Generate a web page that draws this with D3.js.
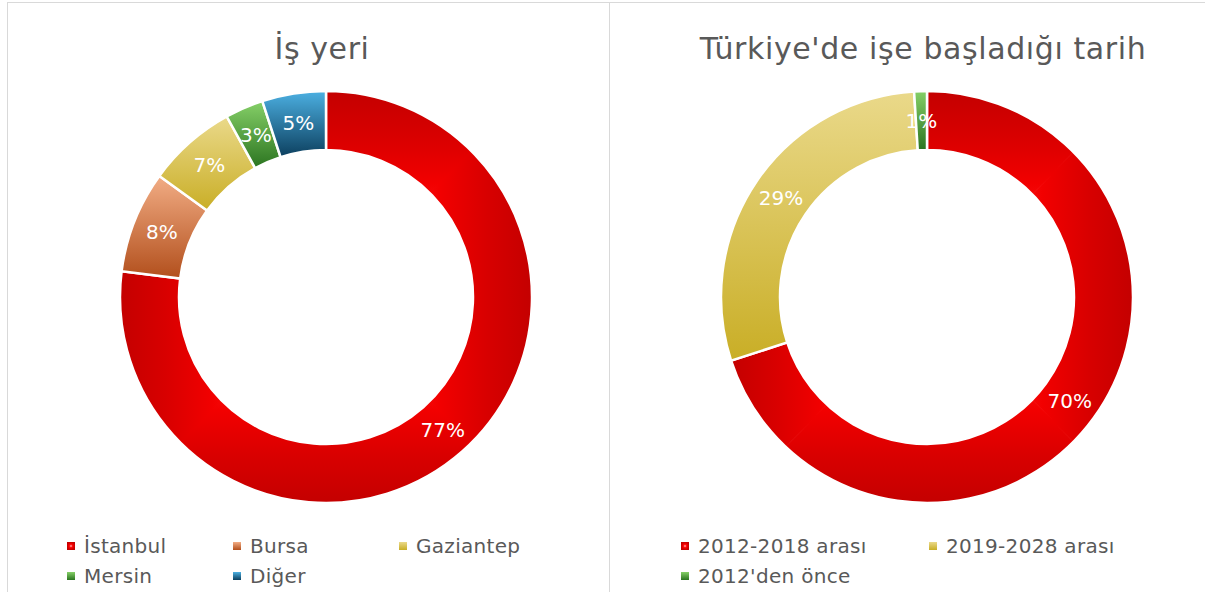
<!DOCTYPE html>
<html>
<head>
<meta charset="utf-8">
<script src="https://cdn.jsdelivr.net/npm/d3@7"></script>
<style>
  body { margin: 0; background: #fff; }
  svg { display: block; font-family: "DejaVu Sans", Inter, sans-serif; }
</style>
</head>
<body>
<svg id="chart" width="1205" height="592"></svg>
<script>
// left chart: workplace
var workTitle = "İş yeri";
var workCategories = ["İstanbul", "Bursa", "Gaziantep", "Mersin", "Diğer"];
var workValues = [77, 8, 7, 3, 5];

// right chart: start year in Türkiye
var startTitle = "Türkiye'de işe başladığı tarih";
var startCategories = ["2012-2018 arası", "2019-2028 arası", "2012'den önce"];
var startValues = [70, 29, 1];

// gradient colours [top, bottom], red uses path style gradient
var palette = {
  "İstanbul": "red",
  "2012-2018 arası": "red",
  "Bursa": ["#f2ad85", "#b24f1c"],
  "Gaziantep": ["#ead98a", "#c9ae26"],
  "2019-2028 arası": ["#ead98a", "#c9ae26"],
  "Mersin": ["#86d068", "#2b7420"],
  "2012'den önce": ["#86d068", "#2b7420"],
  "Diğer": ["#4cb0e2", "#0c3f5e"]
};
var redStops = [[0, "#ffe8e8"], [0.3, "#ff1a1a"], [0.55, "#f20000"], [0.78, "#d80000"], [1, "#c40000"]];

var textColor = "#595959";
var svg = d3.select("#chart");
var defs = svg.append("defs");
var gid = 0;

// frames
svg.append("rect").attr("x", 7.5).attr("y", 2.5).attr("width", 602).attr("height", 620)
  .attr("fill", "none").attr("stroke", "#d9d9d9");
svg.append("rect").attr("x", 609.5).attr("y", 2.5).attr("width", 620).attr("height", 620)
  .attr("fill", "none").attr("stroke", "#d9d9d9");

function linearGrad(c) {
  var id = "g" + (gid++);
  var g = defs.append("linearGradient").attr("id", id)
    .attr("x1", 0).attr("y1", 0).attr("x2", 0).attr("y2", 1);
  g.append("stop").attr("offset", 0).attr("stop-color", c[0]);
  g.append("stop").attr("offset", 1).attr("stop-color", c[1]);
  return "url(#" + id + ")";
}

function redLine(x1, y1, x2, y2) {
  var id = "g" + (gid++);
  var g = defs.append("linearGradient").attr("id", id)
    .attr("gradientUnits", "userSpaceOnUse")
    .attr("x1", x1).attr("y1", y1).attr("x2", x2).attr("y2", y2);
  redStops.forEach(function(s) {
    g.append("stop").attr("offset", s[0]).attr("stop-color", s[1]);
  });
  return "url(#" + id + ")";
}

function redRadial() {
  var id = "g" + (gid++);
  var g = defs.append("radialGradient").attr("id", id);
  redStops.forEach(function(s) {
    g.append("stop").attr("offset", s[0]).attr("stop-color", s[1]);
  });
  return "url(#" + id + ")";
}

// rectangular "path" gradient: four triangles clipped to the slice
function fillRed(g, pathD) {
  var tmp = g.append("path").attr("d", pathD).attr("fill", "none");
  var b = tmp.node().getBBox();
  tmp.remove();
  var cid = "c" + (gid++);
  defs.append("clipPath").attr("id", cid).append("path").attr("d", pathD);
  var cx = b.x + b.width / 2, cy = b.y + b.height / 2;
  var x0 = b.x, x1 = b.x + b.width, y0 = b.y, y1 = b.y + b.height;
  var inner = g.append("g").attr("clip-path", "url(#" + cid + ")");
  var tris = [
    [[cx, cy], [x0, y0], [x1, y0], redLine(cx, cy, cx, y0)],
    [[cx, cy], [x1, y0], [x1, y1], redLine(cx, cy, x1, cy)],
    [[cx, cy], [x1, y1], [x0, y1], redLine(cx, cy, cx, y1)],
    [[cx, cy], [x0, y1], [x0, y0], redLine(cx, cy, x0, cy)]
  ];
  tris.forEach(function(t) {
    inner.append("path")
      .attr("d", "M" + t[0] + "L" + t[1] + "L" + t[2] + "Z")
      .attr("fill", t[3]).attr("stroke", t[3]).attr("stroke-width", 1);
  });
  g.append("path").attr("d", pathD).attr("fill", "none")
    .attr("stroke", "#fff").attr("stroke-width", 2.5);
}

function drawDonut(opt) {
  var g = svg.append("g").attr("transform", "translate(" + opt.cx + "," + opt.cy + ")");
  var pie = d3.pie().sort(null).value(function(d) { return d; });
  var arc = d3.arc().innerRadius(147).outerRadius(206);
  var arcs = pie(opt.values);
  var total = d3.sum(opt.values);

  arcs.forEach(function(a, i) {
    var name = opt.categories[i];
    var col = palette[name];
    var d = arc(a);
    if (col === "red") {
      fillRed(g, d);
    } else {
      g.append("path").attr("d", d).attr("fill", linearGrad(col))
        .attr("stroke", "#fff").attr("stroke-width", 2.5);
    }
  });

  g.selectAll("text.lbl").data(arcs).enter().append("text")
    .attr("class", "lbl")
    .attr("transform", function(a) { return "translate(" + arc.centroid(a) + ")"; })
    .attr("text-anchor", "middle").attr("dy", "0.36em")
    .attr("fill", "#fff").attr("font-size", 20)
    .text(function(a) { return Math.round(a.data / total * 100) + "%"; });

  svg.append("text").attr("x", opt.titleX).attr("y", 59)
    .attr("text-anchor", "middle").attr("fill", textColor).attr("font-size", 30)
    .attr("letter-spacing", 0.6)
    .text(opt.title);

  // legend
  var lg = svg.append("g");
  opt.categories.forEach(function(name, i) {
    var col = i % opt.legendCols, row = Math.floor(i / opt.legendCols);
    var x = opt.legendX + col * opt.legendStep, y = 546 + row * 30;
    var col2 = palette[name];
    lg.append("rect").attr("x", x).attr("y", y - 4).attr("width", 8).attr("height", 8)
      .attr("fill", col2 === "red" ? redRadial() : linearGrad(col2));
    lg.append("text").attr("x", x + 17).attr("y", y + 7)
      .attr("fill", textColor).attr("font-size", 20).attr("letter-spacing", 0.3).text(name);
  });
}

drawDonut({
  cx: 326, cy: 297, title: workTitle, titleX: 322,
  categories: workCategories, values: workValues,
  legendX: 67, legendStep: 166, legendCols: 3
});
drawDonut({
  cx: 927, cy: 297, title: startTitle, titleX: 923,
  categories: startCategories, values: startValues,
  legendX: 681, legendStep: 248, legendCols: 2
});
</script>
</body>
</html>
